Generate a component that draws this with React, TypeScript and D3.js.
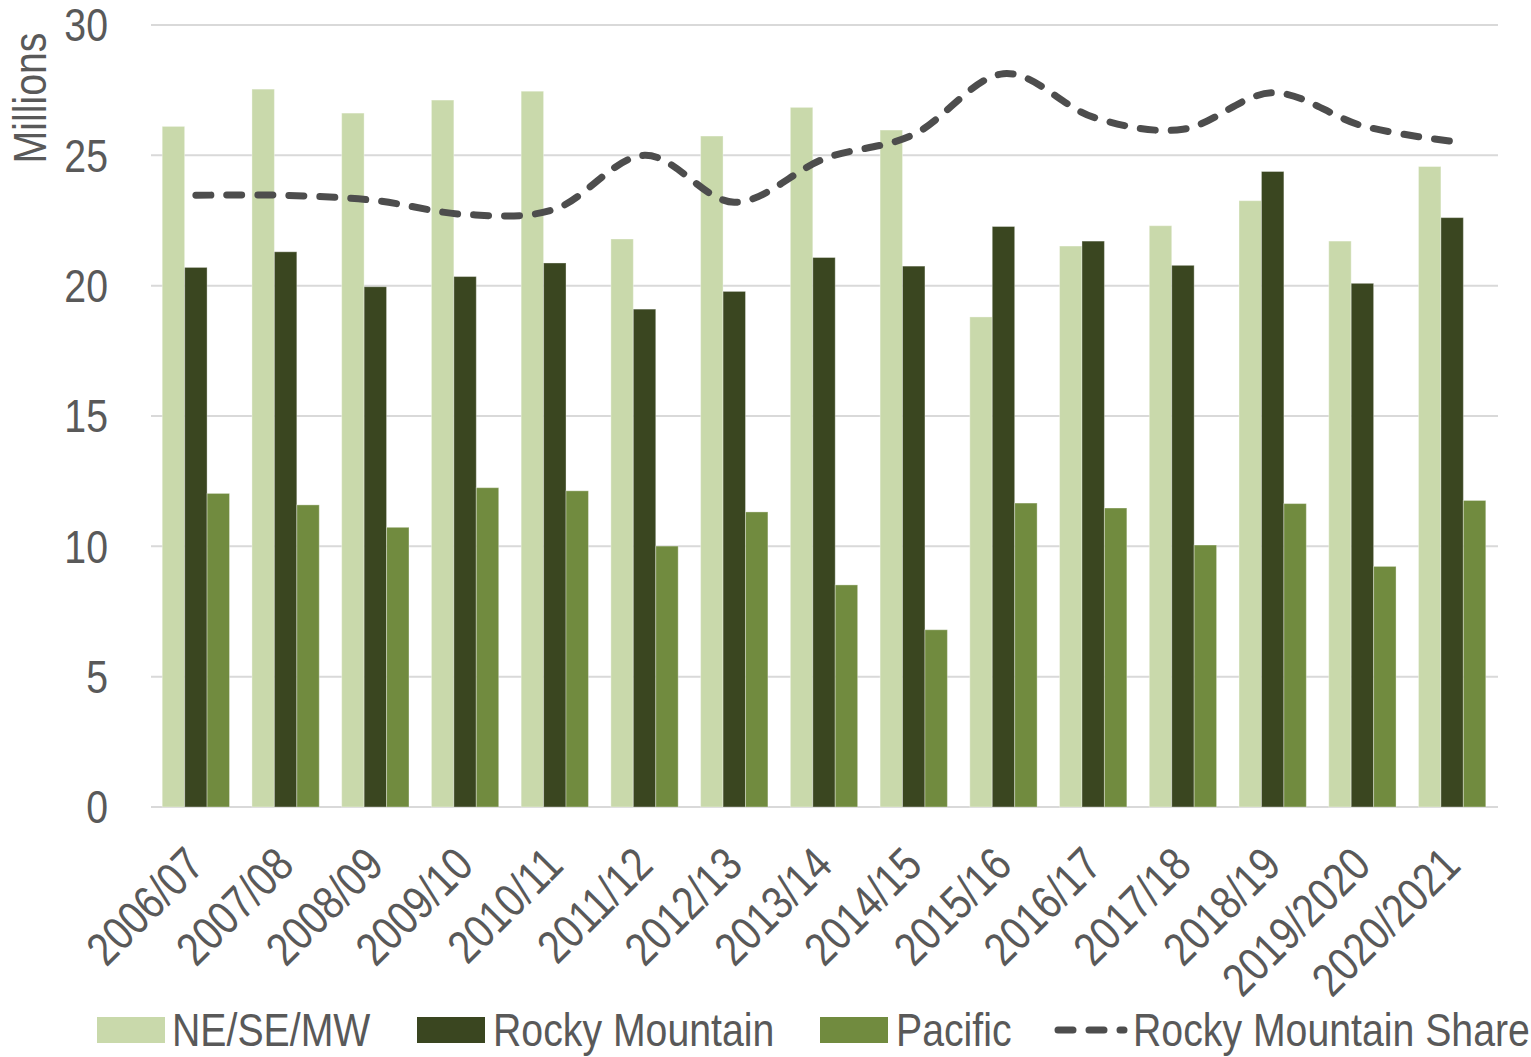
import React from "react";
import * as d3 from "d3";

// Season labels on the category axis
const categories = [
  "2006/07", "2007/08", "2008/09", "2009/10", "2010/11", "2011/12", "2012/13",
  "2013/14", "2014/15", "2015/16", "2016/17", "2017/18", "2018/19", "2019/2020", "2020/2021",
];

// Skier visits by region, millions
const neSeMw = [26.11, 27.54, 26.62, 27.12, 27.46, 21.79, 25.74, 26.84, 25.97, 18.8, 21.52, 22.3, 23.26, 21.71, 24.57];
const rockyMountain = [20.7, 21.3, 19.96, 20.35, 20.87, 19.1, 19.78, 21.08, 20.75, 22.27, 21.71, 20.78, 24.38, 20.09, 22.61];
const pacific = [12.03, 11.59, 10.73, 12.25, 12.13, 10.01, 11.32, 8.52, 6.8, 11.66, 11.47, 10.05, 11.64, 9.23, 11.76];

// Rocky Mountain share of all visits, percent (plotted on an unlabelled secondary axis 0–45%)
const rockyShare = [35.2, 35.2, 34.9, 34.1, 34.4, 37.5, 34.8, 37.3, 38.7, 42.2, 39.7, 39.0, 41.1, 39.2, 38.3];

const yTicks = [0, 5, 10, 15, 20, 25, 30];

const seriesNames = ["NE/SE/MW", "Rocky Mountain", "Pacific"];
const seriesValues = [neSeMw, rockyMountain, pacific];
const seriesColors = ["#c9d9ab", "#3a4620", "#718b3f"];
const shareLabel = "Rocky Mountain Share";

const W = 1531;
const H = 1057;
const FONT = "'Liberation Sans', Arial, sans-serif";
const TEXT = "#595959";
const FS = 47;
const NARROW = 0.835;

// Condensed text: Liberation Sans squeezed horizontally to narrow proportions
function NText({
  x,
  y,
  rotate = 0,
  anchor = "start",
  dy = "0.35em",
  children,
}: {
  x: number;
  y: number;
  rotate?: number;
  anchor?: string;
  dy?: string;
  children: React.ReactNode;
}) {
  return (
    <text
      transform={`translate(${x},${y}) rotate(${rotate}) scale(${NARROW},1)`}
      textAnchor={anchor}
      dy={dy}
      fontSize={FS}
      fill={TEXT}
      fontFamily={FONT}
    >
      {children}
    </text>
  );
}

export default function App() {
  const left = 151;
  const right = 1497;
  const top = 25;
  const bottom = 807;

  const x = d3.scaleBand<string>().domain(categories).range([left, right]).paddingInner(0.25).paddingOuter(0.125);
  const x1 = d3.scaleBand<string>().domain(seriesNames).range([0, x.bandwidth()]);
  const y = d3.scaleLinear().domain([0, 30]).range([bottom, top]);
  const yShare = d3.scaleLinear().domain([0, 45]).range([bottom, top]);

  const line = d3
    .line<number>()
    .x((_, i) => (x(categories[i]) as number) + x.bandwidth() / 2)
    .y((d) => yShare(d))
    .curve(d3.curveCatmullRom.alpha(0));

  const legendY = 1030;
  const legendItems = [
    { name: seriesNames[0], color: seriesColors[0], sx: 97, tx: 172 },
    { name: seriesNames[1], color: seriesColors[1], sx: 417, tx: 493 },
    { name: seriesNames[2], color: seriesColors[2], sx: 820, tx: 896 },
  ];

  return (
    <svg width={W} height={H} style={{ position: "absolute", left: 0, top: 0, background: "#fff" }}>
      {/* gridlines */}
      {yTicks.map((t) => (
        <line key={t} x1={left} x2={right + 1} y1={y(t)} y2={y(t)} stroke="#d9d9d9" strokeWidth={2} />
      ))}

      {/* y tick labels */}
      {yTicks.map((t) => (
        <NText key={t} x={108} y={y(t)} anchor="end">
          {t}
        </NText>
      ))}

      {/* y axis title */}
      <NText x={30} y={98} rotate={-90} anchor="middle">
        Millions
      </NText>

      {/* bars */}
      {categories.map((c, i) => (
        <g key={c} transform={`translate(${x(c)},0)`}>
          {seriesNames.map((s, k) => {
            const v = seriesValues[k][i];
            return (
              <rect
                key={s}
                x={x1(s)}
                y={y(v)}
                width={x1.bandwidth()}
                height={y(0) - y(v)}
                fill={seriesColors[k]}
                stroke="#ffffff"
                strokeOpacity={0.35}
                strokeWidth={1}
              />
            );
          })}
        </g>
      ))}

      {/* share line */}
      <path
        d={line(rockyShare) || ""}
        fill="none"
        stroke="#4d4d4d"
        strokeWidth={7}
        strokeLinecap="round"
        strokeDasharray="15 16"
      />

      {/* category labels */}
      {categories.map((c) => {
        const cx = (x(c) as number) + x.bandwidth() / 2;
        return (
          <NText key={c} x={cx - 1} y={856} rotate={-45} anchor="end">
            {c}
          </NText>
        );
      })}

      {/* legend */}
      {legendItems.map((it) => (
        <g key={it.name}>
          <rect x={it.sx} y={legendY - 13} width={68} height={26} fill={it.color} />
          <NText x={it.tx} y={legendY}>{it.name}</NText>
        </g>
      ))}
      <line
        x1={1058}
        x2={1124}
        y1={legendY}
        y2={legendY}
        stroke="#4d4d4d"
        strokeWidth={7}
        strokeLinecap="round"
        strokeDasharray="15 16"
      />
      <NText x={1133} y={legendY}>{shareLabel}</NText>
    </svg>
  );
}
